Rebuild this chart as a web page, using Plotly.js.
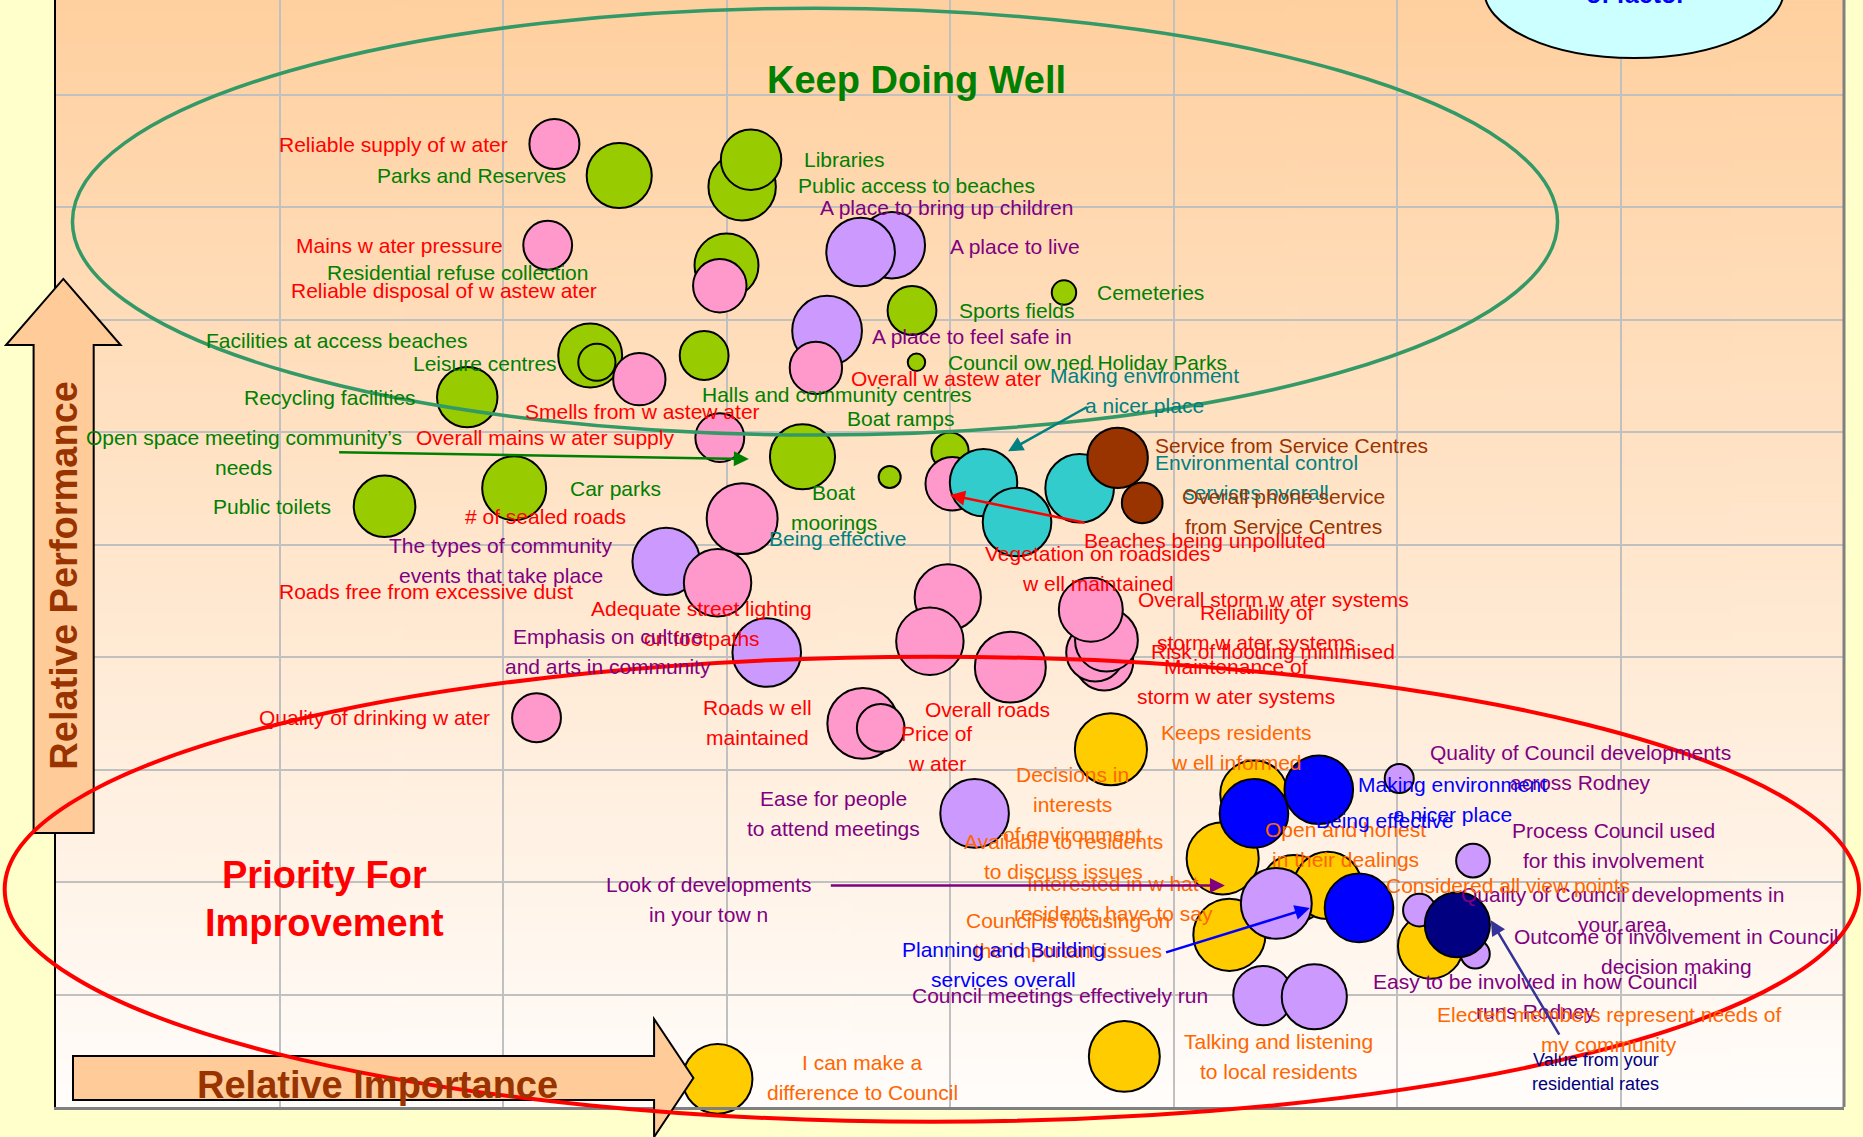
<!DOCTYPE html>
<html>
<head>
<meta charset="utf-8">
<script src="https://cdn.plot.ly/plotly-3.0.1.min.js"></script>
<style>
  html, body { margin: 0; padding: 0; background: #FFFFCC; }
  #chart { width: 1863px; height: 1137px; }
</style>
</head>
<body>
<div id="chart"></div>
<script>
// Positions are in grid cells (the original chart has no tick labels):
// x = relative importance, y = relative performance, size = bubble size.

// Council services – parks, facilities (green)
const greenX    = [2.52, 3.07, 3.11, 3.00, 3.83, 4.51, 3.85, 2.39, 2.42, 2.90, 1.84, 3.34, 4.00, 3.73, 2.05, 1.47];
const greenY    = [8.28, 8.18, 8.42, 7.48, 7.08, 7.24, 6.62, 6.68, 6.62, 6.68, 6.31, 5.78, 5.83, 5.60, 5.50, 5.34];
const greenSize = [56, 58, 52, 55, 42, 21, 15, 55, 32, 42, 52, 56, 32, 19, 55, 53];

// Council, communication (gold)
const goldX    = [4.72, 5.36, 5.22, 5.54, 5.69, 5.25, 6.15, 4.78, 2.96];
const goldY    = [3.18, 2.78, 2.21, 1.94, 1.97, 1.53, 1.43, 0.45, 0.25];
const goldSize = [62, 58, 62, 58, 58, 62, 56, 61, 60];

// Community, developments, involvement (lavender)
const lilacX    = [3.74, 3.60, 3.45, 2.73, 3.18, 4.11, 5.46, 5.40, 5.63, 6.01, 6.34, 6.10, 6.35];
const lilacY    = [7.66, 7.60, 6.90, 4.85, 4.04, 2.61, 1.81, 0.99, 0.98, 2.92, 2.19, 1.75, 1.36];
const lilacSize = [57, 59, 60, 58, 59, 59, 61, 51, 56, 25, 29, 28, 25];

// Water, wastewater, roads, stormwater (pink)
const pinkX    = [2.23, 2.20, 2.97, 2.61, 3.40, 2.97, 4.01, 3.07, 2.96, 3.99, 3.91, 4.27, 3.61, 3.69, 2.15, 4.69, 4.65, 4.70, 4.63];
const pinkY    = [8.56, 7.66, 7.30, 6.47, 6.57, 5.95, 5.54, 5.23, 4.66, 4.53, 4.14, 3.91, 3.41, 3.37, 3.46, 3.96, 4.04, 4.15, 4.42];
const pinkSize = [43, 42, 46, 45, 45, 42, 46, 61, 58, 57, 58, 61, 61, 41, 42, 50, 50, 54, 55];

// Environment (cyan)
const cyanX    = [4.15, 4.58, 4.30];
const cyanY    = [5.55, 5.50, 5.20];
const cyanSize = [58, 59, 59];

// Service centres (brown)
const brownX    = [4.75, 4.86];
const brownY    = [5.77, 5.37];
const brownSize = [52, 35];

// Planning and building (blue)
const blueX    = [5.36, 5.65, 5.83];
const blueY    = [2.61, 2.82, 1.77];
const blueSize = [59, 59, 59];

// Rates (navy)
const navyX    = [6.27];
const navyY    = [1.62];
const navySize = [56];

const COLORS = {
  green: '#008000', red: '#FF0000', purple: '#800080', teal: '#008080',
  brown: '#993300', orange: '#FF6600', blue: '#0000FF', navy: '#000080', slate: '#333399'
};

// text, x, y (first line), anchor, colour
const labels = [
  ['Parks and Reserves', 2.29, 8.28, 'r', 'green'],
  ['Libraries', 3.34, 8.42, 'l', 'green'],
  ['Public access to beaches', 3.31, 8.19, 'l', 'green'],
  ['Residential refuse collection', 2.39, 7.42, 'r', 'green'],
  ['Sports fields', 4.03, 7.08, 'l', 'green'],
  ['Cemeteries', 4.65, 7.24, 'l', 'green'],
  ['Facilities at access beaches', 1.85, 6.81, 'r', 'green'],
  ['Leisure centres', 2.25, 6.61, 'r', 'green'],
  ['Council ow ned Holiday Parks', 3.98, 6.62, 'l', 'green'],
  ['Recycling facilities', 1.62, 6.31, 'r', 'green'],
  ['Halls and community centres', 2.88, 6.33, 'l', 'green'],
  ['Boat ramps', 3.53, 6.12, 'l', 'green'],
  ['Open space meeting community\u2019s\nneeds', 0.84, 5.95, 'c', 'green'],
  ['Car parks', 2.29, 5.50, 'l', 'green'],
  ['Boat\nmoorings', 3.48, 5.46, 'c', 'green'],
  ['Public toilets', 1.24, 5.34, 'r', 'green'],

  ['Reliable supply of w ater', 2.03, 8.56, 'r', 'red'],
  ['Mains w ater pressure', 2.01, 7.66, 'r', 'red'],
  ['Reliable disposal of w astew ater', 2.43, 7.26, 'r', 'red'],
  ['Smells from w astew ater', 3.16, 6.18, 'r', 'red'],
  ['Overall w astew ater', 3.55, 6.48, 'l', 'red'],
  ['Overall mains w ater supply', 1.60, 5.95, 'l', 'red'],
  ['# of sealed roads', 1.82, 5.25, 'l', 'red'],
  ['Roads free from excessive dust', 0.99, 4.58, 'l', 'red'],
  ['Adequate street lighting\non footpaths', 2.89, 4.43, 'c', 'red'],
  ['Vegetation on roadsides\nw ell maintained', 4.66, 4.92, 'c', 'red'],
  ['Beaches being unpolluted', 4.59, 5.04, 'l', 'red'],
  ['Overall storm w ater systems', 4.83, 4.51, 'l', 'red'],
  ['Reliability of\nstorm w ater systems', 5.37, 4.40, 'c', 'red'],
  ['Risk of flooding minimised', 4.89, 4.05, 'l', 'red'],
  ['Maintenance of\nstorm w ater systems', 5.28, 3.92, 'c', 'red'],
  ['Quality of drinking w ater', 1.95, 3.46, 'r', 'red'],
  ['Roads w ell\nmaintained', 3.14, 3.55, 'c', 'red'],
  ['Overall roads', 3.88, 3.53, 'l', 'red'],
  ['Price of\nw ater', 3.94, 3.32, 'c', 'red'],

  ['A place to bring up children', 3.41, 8.00, 'l', 'purple'],
  ['A place to live', 3.99, 7.65, 'l', 'purple'],
  ['A place to feel safe in', 3.64, 6.85, 'l', 'purple'],
  ['The types of community\nevents that take place', 1.99, 4.99, 'c', 'purple'],
  ['Emphasis on culture\nand arts in community', 2.47, 4.18, 'c', 'purple'],
  ['Ease for people\nto attend meetings', 3.48, 2.74, 'c', 'purple'],
  ['Look of developments\nin your tow n', 2.92, 1.98, 'c', 'purple'],
  ['Council meetings effectively run', 3.82, 0.99, 'l', 'purple'],
  ['Quality of Council developments\nacross Rodney', 6.82, 3.15, 'c', 'purple'],
  ['Process Council used\nfor this involvement', 6.97, 2.46, 'c', 'purple'],
  ['Quality of Council developments in\nyour area', 7.01, 1.89, 'c', 'purple'],
  ['Outcome of involvement in Council\ndecision making', 7.25, 1.52, 'c', 'purple'],
  ['Easy to be involved in how Council\nruns Rodney', 6.62, 1.12, 'c', 'purple'],

  ['Making environment\na nicer place', 4.87, 6.50, 'c', 'teal'],
  ['Environmental control\nservices overall', 5.37, 5.73, 'c', 'teal'],
  ['Being effective', 3.18, 5.05, 'l', 'teal'],

  ['Service from Service Centres', 4.91, 5.88, 'l', 'brown'],
  ['Overall phone service\nfrom Service Centres', 5.49, 5.43, 'c', 'brown'],

  ['Keeps residents\nw ell informed', 5.28, 3.33, 'c', 'orange'],
  ['Decisions in\ninterests\nof environment', 4.55, 2.96, 'c', 'orange'],
  ['Available to residents\nto discuss issues', 4.51, 2.36, 'c', 'orange'],
  ['Interested in w hat\nresidents have to say', 4.73, 1.99, 'c', 'orange'],
  ['Council is focusing on\nthe important issues', 4.53, 1.66, 'c', 'orange'],
  ['Open and honest\nin their dealings', 5.77, 2.47, 'c', 'orange'],
  ['Considered all view points', 5.94, 1.97, 'l', 'orange'],
  ['Elected members represent needs of\nmy community', 6.95, 0.82, 'c', 'orange'],
  ['Talking and listening\nto local residents', 5.47, 0.58, 'c', 'orange'],
  ['I can make a\ndifference to Council', 3.61, 0.40, 'c', 'orange'],

  ['Planning and Building\nservices overall', 4.24, 1.40, 'c', 'blue'],
  ['Making environment\na nicer place', 6.25, 2.87, 'c', 'blue'],
  ['Being effective', 6.26, 2.55, 'r', 'blue']
];

// tail x, tail y, head x, head y, colour
const pointers = [
  [1.26, 5.82, 3.10, 5.76, 'green'],
  [4.62, 6.23, 4.26, 5.83, 'teal'],
  [4.61, 5.19, 4.00, 5.44, 'red'],
  [3.46, 1.97, 5.23, 1.97, 'purple'],
  [4.96, 1.37, 5.61, 1.77, 'blue'],
  [6.73, 0.63, 6.42, 1.66, 'slate']
];

const FONT = '"Liberation Sans", Arial, Helvetica, sans-serif';
const SIZE_REF = 0.86;

function bubbles(x, y, size, fill) {
  return {
    type: 'scatter', mode: 'markers', x: x, y: y,
    hoverinfo: 'skip', cliponaxis: false,
    marker: {
      size: size, sizemode: 'diameter', sizeref: SIZE_REF,
      color: fill, opacity: 1,
      line: { color: '#000000', width: 2 }
    }
  };
}

// back to front
const data = [
  bubbles(greenX, greenY, greenSize, '#99CC00'),
  bubbles(goldX, goldY, goldSize, '#FFCC00'),
  bubbles(lilacX, lilacY, lilacSize, '#CC99FF'),
  bubbles(pinkX, pinkY, pinkSize, '#FF99CC'),
  bubbles(cyanX, cyanY, cyanSize, '#33CCCC'),
  bubbles(brownX, brownY, brownSize, '#993300'),
  bubbles(blueX, blueY, blueSize, '#0000FF'),
  bubbles(navyX, navyY, navySize, '#000080')
];

const anchorMap = { l: 'left', r: 'right', c: 'center' };
const annotations = [];

labels.forEach(function (lab) {
  lab[0].split('\n').forEach(function (line, i) {
    annotations.push({
      x: lab[1], y: lab[2], xref: 'x', yref: 'y',
      text: line, showarrow: false,
      xanchor: anchorMap[lab[3]], yanchor: 'middle', yshift: -i * 30,
      font: { family: FONT, size: 21, color: COLORS[lab[4]] }
    });
  });
});

// small navy note
['Value from your', 'residential rates'].forEach(function (line, i) {
  annotations.push({
    x: 6.89, y: 0.42, xref: 'x', yref: 'y', text: line, showarrow: false,
    xanchor: 'center', yanchor: 'middle', yshift: -i * 24,
    font: { family: FONT, size: 18, color: COLORS.navy }
  });
});

pointers.forEach(function (p) {
  annotations.push({
    x: p[2], y: p[3], ax: p[0], ay: p[1],
    xref: 'x', yref: 'y', axref: 'x', ayref: 'y',
    text: '', showarrow: true, arrowhead: 2, arrowsize: 1.2,
    arrowwidth: 2.5, arrowcolor: COLORS[p[4]], standoff: 0
  });
});

// quadrant titles
annotations.push({
  x: 3.85, y: 9.13, xref: 'x', yref: 'y', text: 'Keep Doing Well', showarrow: false,
  xanchor: 'center', yanchor: 'middle',
  font: { family: FONT, size: 38, color: '#008000', weight: 'bold' }
});
['Priority For', 'Improvement'].forEach(function (line, i) {
  annotations.push({
    x: 1.20, y: 2.06, xref: 'x', yref: 'y', text: line, showarrow: false,
    xanchor: 'center', yanchor: 'middle', yshift: -i * 48,
    font: { family: FONT, size: 38, color: '#FF0000', weight: 'bold' }
  });
});

// axis captions on the arrows
annotations.push({
  x: 0.0045, y: 0.48, xref: 'paper', yref: 'paper', text: 'Relative Performance',
  showarrow: false, textangle: -90, xanchor: 'center', yanchor: 'middle',
  font: { family: FONT, size: 38, color: '#993300', weight: 'bold' }
});
annotations.push({
  x: 0.18, y: 0.0195, xref: 'paper', yref: 'paper', text: 'Relative Importance',
  showarrow: false, xanchor: 'center', yanchor: 'middle',
  font: { family: FONT, size: 38, color: '#993300', weight: 'bold' }
});
annotations.push({
  x: 0.8837, y: 0.991, xref: 'paper', yref: 'paper', text: 'of factor',
  showarrow: false, xanchor: 'center', yanchor: 'bottom',
  font: { family: FONT, size: 25, color: '#0000FF', weight: 'bold' }
});

const shapes = [
  // right border of the plot area
  { type: 'line', xref: 'paper', yref: 'paper', x0: 1, x1: 1, y0: 0, y1: 1,
    line: { color: '#808080', width: 3 }, layer: 'above' },
  // up arrow (performance)
  { type: 'path', xref: 'paper', yref: 'paper', layer: 'above',
    path: 'M 0.00408,0.748 L 0.03613,0.6883 L 0.02108,0.6883 L 0.02108,0.2475 L -0.01253,0.2475 L -0.01253,0.6883 L -0.02796,0.6883 Z',
    fillcolor: '#FFCC99', line: { color: '#000000', width: 2 } },
  // right arrow (importance)
  { type: 'path', xref: 'paper', yref: 'paper', layer: 'above',
    path: 'M 0.00951,0.0461 L 0.3345,0.0461 L 0.3345,0.0795 L 0.3565,0.0262 L 0.3345,-0.0271 L 0.3345,0.00632 L 0.00951,0.00632 Z',
    fillcolor: '#FFCC99', line: { color: '#000000', width: 2 } },
  // keep doing well
  { type: 'circle', xref: 'paper', yref: 'paper', layer: 'above',
    x0: 0.0092, x1: 0.8398, y0: 0.607, y1: 0.9925,
    line: { color: '#339966', width: 3.5 } },
  // priority for improvement
  { type: 'circle', xref: 'paper', yref: 'paper', layer: 'above',
    x0: -0.0287, x1: 1.0084, y0: -0.0133, y1: 0.4068,
    line: { color: '#FF0000', width: 4 } },
  // size key bubble (cut off at the top)
  { type: 'circle', xref: 'paper', yref: 'paper', layer: 'above',
    x0: 0.7987, x1: 0.9664, y0: 0.9476, y1: 1.0705,
    fillcolor: '#CCFFFF', line: { color: '#000000', width: 2 } }
];

// plot area gradient: peach at the top fading to white
function gradientImage() {
  const c = document.createElement('canvas');
  c.width = 8; c.height = 512;
  const ctx = c.getContext('2d');
  const g = ctx.createLinearGradient(0, 0, 0, 512);
  g.addColorStop(0, '#FFD09F');
  g.addColorStop(1, '#FFFDFB');
  ctx.fillStyle = g;
  ctx.fillRect(0, 0, 8, 512);
  return c.toDataURL('image/png');
}

const axisCommon = {
  showgrid: true, gridcolor: '#C0C0C0', gridwidth: 2,
  showticklabels: false, ticks: '', zeroline: false,
  dtick: 1, tick0: 0, fixedrange: true, showline: true
};

const layout = {
  width: 1863, height: 1137,
  margin: { l: 56, r: 19, t: 0, b: 30, pad: 0 },
  paper_bgcolor: '#FFFFCC',
  plot_bgcolor: 'rgba(0,0,0,0)',
  showlegend: false,
  font: { family: FONT },
  xaxis: Object.assign({}, axisCommon, { range: [0, 8], linecolor: '#808080', linewidth: 3 }),
  yaxis: Object.assign({}, axisCommon, { range: [0, 9.84], linecolor: '#000000', linewidth: 2 }),
  images: [{
    source: gradientImage(), xref: 'paper', yref: 'paper',
    x: 0, y: 1, sizex: 1, sizey: 1, sizing: 'stretch',
    xanchor: 'left', yanchor: 'top', layer: 'below'
  }],
  shapes: shapes,
  annotations: annotations
};

Plotly.newPlot('chart', data, layout, { displayModeBar: false, staticPlot: true });
</script>
</body>
</html>
